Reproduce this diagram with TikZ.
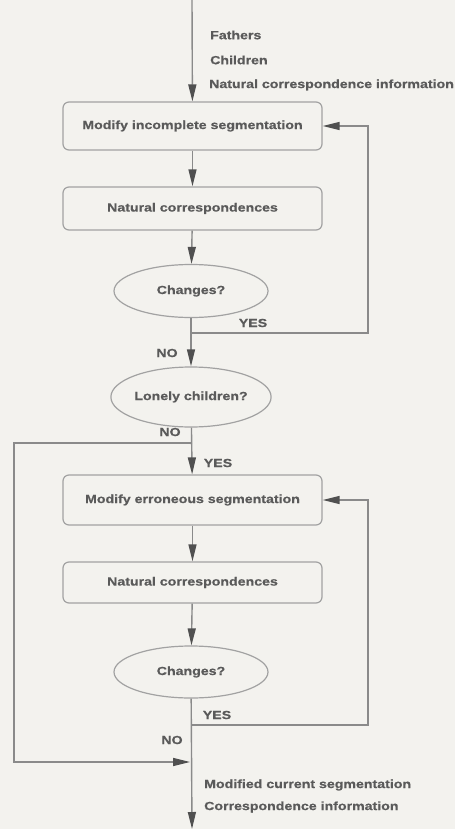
\documentclass[tikz,border=0pt]{standalone}
\usepackage{fontspec}
\setmainfont{Liberation Sans}[FakeStretch=1.2,BoldFeatures={FakeBold=0.6}]
\usetikzlibrary{arrows.meta,shapes.geometric}
\definecolor{paper}{HTML}{F3F2EE}
\definecolor{ink}{HTML}{5A5A5A}
\definecolor{wire}{HTML}{8A8A8A}
\definecolor{edge}{HTML}{A2A2A2}
\definecolor{tipc}{HTML}{505050}
\tikzset{
  txt/.style={text=ink, font=\bfseries\fontsize{11.8}{14}\selectfont},
  stepbox/.style={txt, draw=edge, line width=1.2pt, rounded corners=6pt,
    minimum width=259pt, fill=paper, inner sep=0pt},
  test/.style={txt, ellipse, draw=edge, line width=1.2pt, minimum width=154pt,
    fill=paper, inner sep=0pt},
  tag/.style={txt, inner sep=0pt},
  flow/.style={draw=wire, line width=1.4pt,
    -{Triangle[length=17pt,width=8pt,color=tipc]}},
  wire/.style={draw=wire, line width=1.4pt}
}
\begin{document}
\begin{tikzpicture}[x=1pt,y=-1pt]
  \fill[paper] (0,0) rectangle (455,829);
  \useasboundingbox (0,0) rectangle (455,829);

  % process steps and tests
  \node[stepbox, minimum height=48pt] (b1) at (192.5,126) {Modify incomplete segmentation};
  \node[stepbox, minimum height=43pt] (b2) at (192.5,208.5) {Natural correspondences};
  \node[test, minimum height=53pt] (e1) at (191,291) {Changes?};
  \node[test, minimum height=60pt] (e2) at (191,397) {Lonely children?};
  \node[stepbox, minimum height=50pt] (b3) at (192.5,500) {Modify erroneous segmentation};
  \node[stepbox, minimum height=41pt] (b4) at (192.5,582.5) {Natural correspondences};
  \node[test, minimum height=52pt] (e3) at (191,672) {Changes?};

  % input and output labels
  \node[tag, anchor=west] (in1) at (210,35) {Fathers};
  \node[tag, anchor=west] (in2) at (210,60) {Children};
  \node[tag, anchor=west] (in3) at (209,85) {Natural correspondence information};
  \node[tag, anchor=west] (out1) at (204,785) {Modified current segmentation};
  \node[tag, anchor=west] (out2) at (204,807) {Correspondence information};

  % branch labels
  \node[tag] (yes1) at (253,323) {YES};
  \node[tag] (no1) at (167,353) {NO};
  \node[tag] (no2) at (170,432) {NO};
  \node[tag] (yes2) at (218,463) {YES};
  \node[tag] (yes3) at (217,715) {YES};
  \node[tag] (no3) at (172,740) {NO};

  % routing points
  \coordinate (top) at (192,0);
  \coordinate (bottom) at (192,829);
  \coordinate (s1) at (192,333);
  \coordinate (r1a) at (368,333);
  \coordinate (r1b) at (368,126);
  \coordinate (s2) at (192,443);
  \coordinate (l2a) at (14,443);
  \coordinate (l2b) at (14,762);
  \coordinate (j2) at (190,762);
  \coordinate (s3) at (192,725);
  \coordinate (r3a) at (368,725);
  \coordinate (r3b) at (368,500);

  % main flow
  \draw[flow] (top) -- (b1);
  \draw[flow] (b1) -- (b2);
  \draw[flow] (b2) -- (e1);
  \draw[flow] (e1) -- (e2);
  \draw[flow] (e2) -- (b3);
  \draw[flow] (b3) -- (b4);
  \draw[flow] (b4) -- (e3);
  \draw[flow] (e3) -- (bottom);

  % feedback loops
  \draw[flow] (s1) -- (r1a) -- (r1b) -- (b1.east);
  \draw[flow] (s3) -- (r3a) -- (r3b) -- (b3.east);
  \draw[flow] (s2) -- (l2a) -- (l2b) -- (j2);
\end{tikzpicture}
\end{document}
